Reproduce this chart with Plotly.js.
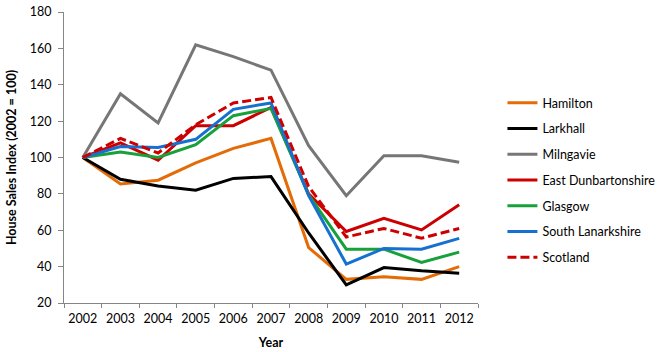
<!DOCTYPE html>
<html>
<head>
<meta charset="utf-8">
<script src="https://cdn.plot.ly/plotly-3.0.1.min.js"></script>
<style>html,body{margin:0;padding:0;background:#fff}#chart{width:672px;height:352px}</style>
</head>
<body>
<div id="chart"></div>
<script>
const years = ["2002","2003","2004","2005","2006","2007","2008","2009","2010","2011","2012"];
const seriesNames = ["Hamilton","Larkhall","Milngavie","East Dunbartonshire","Glasgow","South Lanarkshire","Scotland"];
const hamilton = [100, 85.5, 87.5, 97, 105, 110.5, 50.5, 33, 34.5, 33, 40];
const larkhall = [100, 88, 84.3, 82, 88.5, 89.5, 58.5, 30, 39.5, 37.7, 36.4];
const milngavie = [100, 135, 119, 162, 155.5, 148, 106.5, 79, 101, 101, 97.4];
const eastDunbartonshire = [100, 108, 98.5, 117.5, 117.5, 127.5, 80, 59.3, 66.6, 60.2, 74];
const glasgow = [100, 103, 100, 107, 123, 127, 79.5, 49.6, 49.6, 42.3, 48];
const southLanarkshire = [100, 106, 105.5, 110, 126.5, 130, 79, 41.4, 50, 49.6, 55.5];
const scotland = [100, 110.5, 102.5, 118, 130, 133, 84, 56.3, 61, 55.6, 61];

const values = [hamilton, larkhall, milngavie, eastDunbartonshire, glasgow, southLanarkshire, scotland];
const colors = ["#E36C09", "#000000", "#767676", "#CC0000", "#18A03A", "#1670D0", "#CC0000"];
const dashes = ["solid","solid","solid","solid","solid","solid","9px,4px"];

const FONT = "Lato, 'Open Sans', sans-serif";
const traces = seriesNames.map((n, i) => ({
  type: "scatter", mode: "lines", name: n, x: years, y: values[i],
  legendgroup: "g" + i,
  line: {color: colors[i], width: 3, dash: dashes[i]},
  hoverinfo: "skip"
}));

const layout = {
  width: 672, height: 352,
  margin: {l: 64, r: 185, t: 12, b: 49},
  paper_bgcolor: "#fff", plot_bgcolor: "#fff",
  font: {family: FONT, size: 12.5, color: "#000"},
  showlegend: true,
  legend: {
    x: 1.059, xanchor: "left", y: 0.422, yanchor: "middle",
    traceorder: "grouped", tracegroupgap: 6.5,
    font: {family: FONT, size: 12.5, color: "#000"},
    bgcolor: "rgba(0,0,0,0)", borderwidth: 0
  },
  xaxis: {
    type: "category", range: [-0.5, 10.5], tickson: "boundaries",
    ticks: "outside", ticklen: 4, tickcolor: "#868686", tickwidth: 1,
    showline: true, linecolor: "#868686", linewidth: 1,
    showgrid: false, zeroline: false, tickangle: 0,
    tickfont: {family: FONT, size: 12.5, color: "#000"},
    ticklabelstandoff: 4,
    title: {text: "<b>Year</b>", font: {family: FONT, size: 12.5, color: "#000"}, standoff: 13},
    fixedrange: true
  },
  xaxis2: {
    overlaying: "x", type: "linear", range: [-0.5, 10.5],
    tick0: -0.5, dtick: 1, ticks: "inside", ticklen: 5, tickcolor: "#868686", tickwidth: 1,
    showticklabels: false, showline: false, showgrid: false, zeroline: false,
    side: "bottom", fixedrange: true
  },
  yaxis: {
    range: [20, 180], dtick: 20, tick0: 20,
    ticks: "outside", ticklen: 5, tickcolor: "#868686", tickwidth: 1,
    showline: true, linecolor: "#868686", linewidth: 1,
    showgrid: false, zeroline: false,
    tickfont: {family: FONT, size: 12.5, color: "#000"},
    ticklabelstandoff: 4,
    title: {text: "<b>House Sales Index (2002 = 100)</b>", font: {family: FONT, size: 12.5, color: "#000"}, standoff: 10},
    fixedrange: true
  }
};

Plotly.newPlot("chart", traces, layout, {staticPlot: true, displayModeBar: false});
</script>
</body>
</html>
